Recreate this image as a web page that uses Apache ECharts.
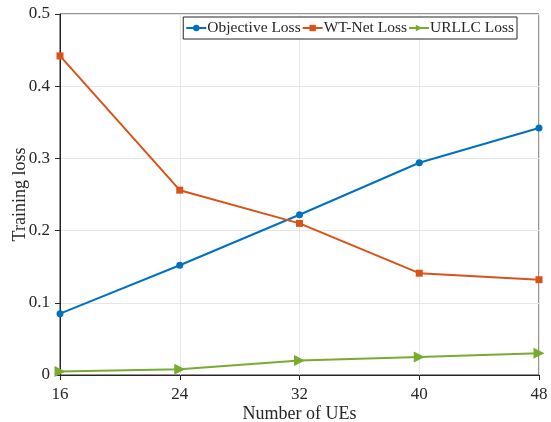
<!DOCTYPE html>
<html><head><meta charset="utf-8">
<script src="https://cdn.jsdelivr.net/npm/echarts@6/dist/echarts.min.js"></script>
<style>html,body{margin:0;padding:0;background:#fff}#c{width:551px;height:422px}</style>
</head><body><div id="c"></div>
<script>
const ues = [16, 24, 32, 40, 48];
const objectiveLoss = [0.085, 0.152, 0.222, 0.294, 0.342];
const wtNetLoss = [0.442, 0.256, 0.210, 0.141, 0.132];
const urllcLoss = [0.005, 0.008, 0.020, 0.025, 0.030];
const seriesNames = ['Objective Loss', 'WT-Net Loss', 'URLLC Loss'];

const font = 'Liberation Serif';
const chart = echarts.init(document.getElementById('c'));
const pairs = v => ues.map((x, i) => [x, v[i]]);
chart.setOption({
  animation: false,
  backgroundColor: '#fff',
  grid: { left: 60, right: 12, top: 14, bottom: 47, show: true, borderColor: '#262626', borderWidth: 1,
    containLabel: false, outerBoundsMode: 'none' },
  legend: {
    data: seriesNames, top: 17, right: 34, orient: 'horizontal',
    borderColor: '#262626', borderWidth: 1, backgroundColor: '#fff',
    padding: [3, 3, 3, 2], itemGap: 1, itemWidth: 20, itemHeight: 8,
    textStyle: { fontFamily: font, fontSize: 15.5, color: '#262626', padding: [0, 0, 0, -4] }
  },
  xAxis: {
    type: 'value', min: 16, max: 48, interval: 8,
    name: 'Number of UEs', nameLocation: 'middle', nameGap: 30, nameMoveOverlap: false,
    nameTextStyle: { fontFamily: font, fontSize: 18, color: '#262626' },
    axisLine: { show: true, lineStyle: { color: '#262626' } },
    axisTick: { show: true, length: 5, lineStyle: { color: '#262626' } },
    axisLabel: { fontFamily: font, fontSize: 17, color: '#262626', margin: 11 },
    splitLine: { show: true, lineStyle: { color: '#e6e6e6' } }
  },
  yAxis: {
    type: 'value', min: 0, max: 0.5, interval: 0.1,
    name: 'Training loss', nameLocation: 'middle', nameGap: 31, nameMoveOverlap: false,
    nameTextStyle: { fontFamily: font, fontSize: 18, color: '#262626' },
    axisLine: { show: true, lineStyle: { color: '#262626' } },
    axisTick: { show: true, length: 5, lineStyle: { color: '#262626' } },
    axisLabel: { fontFamily: font, fontSize: 17, color: '#262626', margin: 10,
      formatter: v => (v === 0 ? '0' : String(+v.toFixed(1))) },
    splitLine: { show: true, lineStyle: { color: '#e6e6e6' } }
  },
  series: [
    { name: seriesNames[0], type: 'line', data: pairs(objectiveLoss), color: '#0072BD',
      symbol: 'circle', symbolSize: 7, lineStyle: { width: 2 } },
    { name: seriesNames[1], type: 'line', data: pairs(wtNetLoss), color: '#D95319',
      symbol: 'rect', symbolSize: 7, lineStyle: { width: 2 } },
    { name: seriesNames[2], type: 'line', data: pairs(urllcLoss), color: '#77AC30',
      symbol: 'triangle', symbolRotate: -90, symbolSize: 11, lineStyle: { width: 2 } }
  ]
});
</script></body></html>
